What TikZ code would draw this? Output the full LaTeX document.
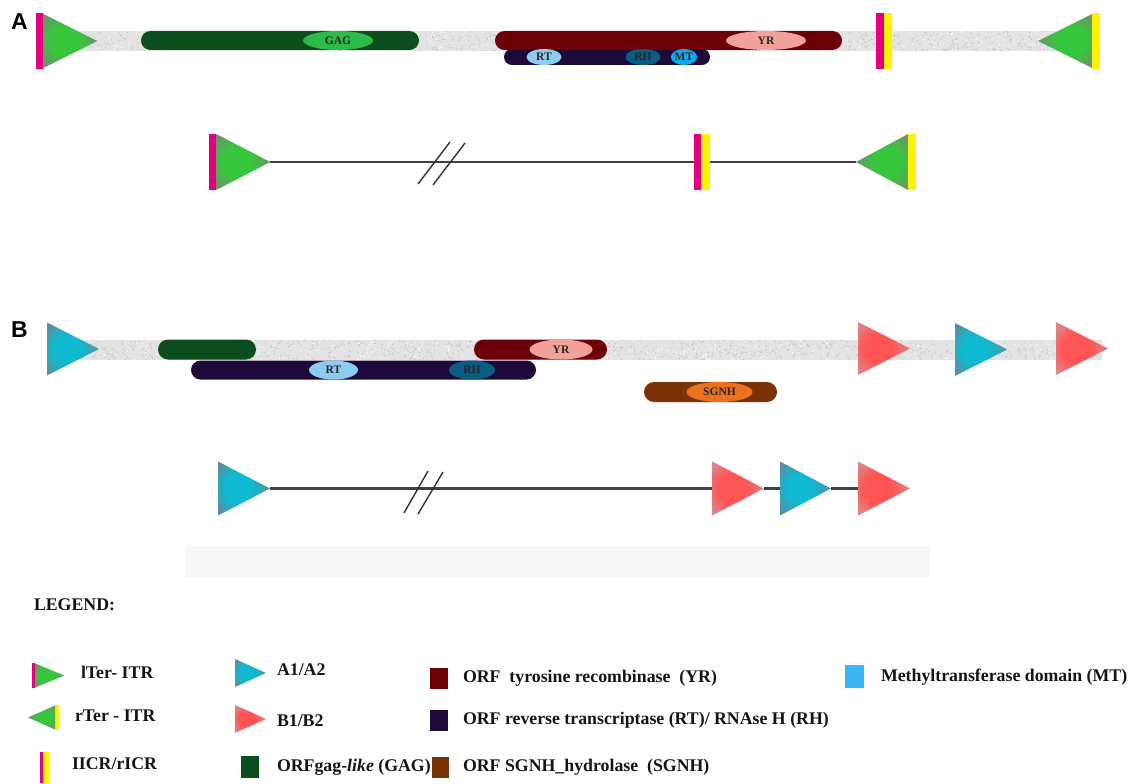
\documentclass[tikz,border=0pt]{standalone}
\usepackage{fontspec}
\setmainfont{Liberation Serif}
\newfontfamily\panelfont{Liberation Sans}
\usetikzlibrary{shapes.geometric}

\definecolor{icrmag}{HTML}{E4007C}
\definecolor{icryel}{HTML}{FFF200}
\definecolor{bandgrey}{HTML}{E3E3E3}
\definecolor{speckdark}{HTML}{C4C4C4}
\definecolor{gagdark}{HTML}{0B4D1C}
\definecolor{gaglight}{HTML}{2DBA48}
\definecolor{yrdark}{HTML}{6B0009}
\definecolor{yrlight}{HTML}{F2A29B}
\definecolor{rtdark}{HTML}{1D0A3B}
\definecolor{rtlight}{HTML}{8FCBF1}
\definecolor{rhteal}{HTML}{0B5C82}
\definecolor{mtblue}{HTML}{12A9EC}
\definecolor{sgdark}{HTML}{7A3309}
\definecolor{sglight}{HTML}{EA711F}
\definecolor{mtkey}{HTML}{3DB5F2}
\definecolor{linegrey}{HTML}{404040}
\definecolor{greenin}{HTML}{38C63C}
\definecolor{greenout}{HTML}{6A946B}
\definecolor{redin}{HTML}{FF5454}
\definecolor{redout}{HTML}{DC878B}
\definecolor{cyanin}{HTML}{10B8D0}
\definecolor{cyanout}{HTML}{5A8F9D}
\definecolor{haze}{HTML}{F7F7F7}

% radial fills for the repeat triangles, centred near the centroid
\pgfdeclareradialshading{greenR}{\pgfpoint{-8bp}{0bp}}{color(0bp)=(greenin); color(13bp)=(greenin); color(30bp)=(greenout); color(50bp)=(greenout)}
\pgfdeclareradialshading{greenL}{\pgfpoint{8bp}{0bp}}{color(0bp)=(greenin); color(13bp)=(greenin); color(30bp)=(greenout); color(50bp)=(greenout)}
\pgfdeclareradialshading{redR}{\pgfpoint{-8bp}{0bp}}{color(0bp)=(redin); color(13bp)=(redin); color(30bp)=(redout); color(50bp)=(redout)}
\pgfdeclareradialshading{cyanR}{\pgfpoint{-8bp}{0bp}}{color(0bp)=(cyanin); color(13bp)=(cyanin); color(30bp)=(cyanout); color(50bp)=(cyanout)}

\begin{document}
\begin{tikzpicture}[x=1pt,y=-1pt,
  every node/.style={inner sep=0pt,outer sep=0pt},
  band/.style={rectangle,fill=bandgrey,minimum height=20pt,anchor=west},
  orf/.style={rectangle,rounded corners=9.5pt,minimum height=19pt,anchor=west},
  dom/.style={ellipse,minimum height=19pt,text=black!85,
    font=\bfseries\fontsize{11.5}{11.5}\selectfont},
  icr/.style={rectangle,minimum width=7.5pt},
  % triangle drawn inside an invisible rectangular node; #1 names the shading
  triR/.style={rectangle,path picture={
      \shade[shading=#1]
        (path picture bounding box.north west) -- (path picture bounding box.east)
        -- (path picture bounding box.south west) -- cycle;}},
  triL/.style={rectangle,path picture={
      \shade[shading=#1]
        (path picture bounding box.north east) -- (path picture bounding box.west)
        -- (path picture bounding box.south east) -- cycle;}},
  link/.style={draw=linegrey,line width=2.2pt},
  cut/.style={draw=linegrey!80!black,line width=1.4pt},
  panel/.style={font=\panelfont\bfseries\fontsize{23}{23}\selectfont,anchor=west},
  key/.style={font=\bfseries\fontsize{17.8}{20}\selectfont,anchor=west,text=black!92},
]
\useasboundingbox (0,0) rectangle (1132,784);

% ---------------- panel A: element map ----------------
\node[panel] (labA) at (11,22) {A};
\node[band,minimum width=1058pt] (bandA) at (42,41) {};
\pgfmathsetseed{11}
\foreach \i in {1,...,900}{
  \pgfmathsetmacro{\px}{42+1058*rnd}
  \pgfmathsetmacro{\py}{31.5+19*rnd}
  \fill[speckdark] (\px,\py) circle (0.75pt);
}
\foreach \i in {1,...,500}{
  \pgfmathsetmacro{\px}{42+1058*rnd}
  \pgfmathsetmacro{\py}{31.5+19*rnd}
  \fill[white] (\px,\py) circle (0.7pt);
}

\node[orf,fill=gagdark,minimum width=278pt] (gagA) at (141,40.5) {};
\node[dom,fill=gaglight,minimum width=70pt] (gagdomA) at (338,40.5) {GAG};

\node[orf,fill=rtdark,minimum width=206pt,minimum height=16pt,rounded corners=8pt] (rtA) at (504,57) {};
\node[orf,fill=yrdark,minimum width=347pt] (yrA) at (495,40.5) {};
\node[dom,fill=yrlight,minimum width=80pt] (yrdomA) at (766,40.5) {YR};
\node[dom,fill=rtlight,minimum width=35pt,minimum height=16pt] (rtdomA) at (544,57) {RT};
\node[dom,fill=rhteal,minimum width=35pt,minimum height=16pt] (rhdomA) at (643,57) {RH};
\node[dom,fill=mtblue,minimum width=21pt,minimum height=16pt] (mtdomA) at (684,57) {MT};

\node[icr,fill=icrmag,minimum height=56pt] (lterbarA) at (39.5,41) {};
\node[triR=greenR,minimum width=54pt,minimum height=54pt,anchor=west] (lterA) at (lterbarA.east) {};
\node[icr,fill=icrmag,minimum width=8pt,minimum height=56pt] (icrmA) at (880,41) {};
\node[icr,fill=icryel,minimum width=8pt,minimum height=56pt,anchor=west] (icryA) at (icrmA.east) {};
\node[icr,fill=icryel,minimum width=8pt,minimum height=56pt] (rterbarA) at (1096,41) {};
\node[triL=greenL,minimum width=54pt,minimum height=54pt,anchor=east] (rterA) at (rterbarA.west) {};

% ---------------- panel A: schematic ----------------
\node[icr,fill=icrmag,minimum height=56pt] (lterbarA2) at (212.5,162) {};
\node[triR=greenR,minimum width=54pt,minimum height=56pt,anchor=west] (lterA2) at (lterbarA2.east) {};
\node[icr,fill=icrmag,minimum width=7.5pt,minimum height=56pt] (icrmA2) at (697.5,162) {};
\node[icr,fill=icryel,minimum width=8.5pt,minimum height=56pt,anchor=west] (icryA2) at (icrmA2.east) {};
\node[icr,fill=icryel,minimum width=8pt,minimum height=56pt] (rterbarA2) at (912,162) {};
\node[triL=greenL,minimum width=52pt,minimum height=56pt,anchor=east] (rterA2) at (rterbarA2.west) {};
\draw[link] (lterA2.east) -- (icrmA2.west);
\draw[link] (icryA2.east) -- (rterA2.west);
\coordinate (cutA1a) at (418,184); \coordinate (cutA1b) at (450,142);
\coordinate (cutA2a) at (433,185); \coordinate (cutA2b) at (465,143);
\draw[cut] (cutA1a) -- (cutA1b);
\draw[cut] (cutA2a) -- (cutA2b);

% ---------------- panel B: element map ----------------
\node[panel] (labB) at (11,330) {B};
\node[band,minimum width=1052pt] (bandB) at (50,350) {};
\pgfmathsetseed{23}
\foreach \i in {1,...,900}{
  \pgfmathsetmacro{\px}{50+1052*rnd}
  \pgfmathsetmacro{\py}{340.5+19*rnd}
  \fill[speckdark] (\px,\py) circle (0.75pt);
}
\foreach \i in {1,...,500}{
  \pgfmathsetmacro{\px}{50+1052*rnd}
  \pgfmathsetmacro{\py}{340.5+19*rnd}
  \fill[white] (\px,\py) circle (0.7pt);
}

\node[orf,fill=gagdark,minimum width=98pt,minimum height=20pt,rounded corners=10pt] (gagB) at (158,349.5) {};
\node[orf,fill=rtdark,minimum width=345pt] (rtB) at (191,370) {};
\node[dom,fill=rtlight,minimum width=49pt] (rtdomB) at (333.5,370) {RT};
\node[dom,fill=rhteal,minimum width=46pt] (rhdomB) at (472,370) {RH};
\node[orf,fill=yrdark,minimum width=133pt,minimum height=20pt,rounded corners=10pt] (yrB) at (474,349.5) {};
\node[dom,fill=yrlight,minimum width=63pt,minimum height=20pt] (yrdomB) at (561,349.5) {YR};
\node[orf,fill=sgdark,minimum width=133pt,minimum height=20pt,rounded corners=10pt] (sgB) at (644,392) {};
\node[dom,fill=sglight,minimum width=66pt,minimum height=20pt] (sgdomB) at (719.5,392) {SGNH};

\node[triR=cyanR,minimum width=52pt,minimum height=53pt,anchor=west] (a1B) at (47,349) {};
\node[triR=redR,minimum width=52pt,minimum height=53pt,anchor=west] (b1B) at (858,348.5) {};
\node[triR=cyanR,minimum width=52pt,minimum height=53pt,anchor=west] (a2B) at (955,349.5) {};
\node[triR=redR,minimum width=52pt,minimum height=53pt,anchor=west] (b2B) at (1056,348.5) {};

% ---------------- panel B: schematic ----------------
\node[triR=cyanR,minimum width=52pt,minimum height=54pt,anchor=west] (a1B2) at (218,488.5) {};
\node[triR=redR,minimum width=52pt,minimum height=54pt,anchor=west] (b1B2) at (712,488.5) {};
\node[triR=cyanR,minimum width=51pt,minimum height=54pt,anchor=west] (a2B2) at (780,488.5) {};
\node[triR=redR,minimum width=52pt,minimum height=54pt,anchor=west] (b2B2) at (858,488.5) {};
\draw[link] (a1B2.east) -- (b1B2.west);
\draw[link] (b1B2.east) -- (a2B2.west);
\draw[link] (a2B2.east) -- (b2B2.west);
\coordinate (cutB1a) at (404,513); \coordinate (cutB1b) at (428,471);
\coordinate (cutB2a) at (418,514); \coordinate (cutB2b) at (443,472);
\draw[cut] (cutB1a) -- (cutB1b);
\draw[cut] (cutB2a) -- (cutB2b);
\node[rectangle,fill=haze,minimum width=745pt,minimum height=31pt,anchor=west] (hazeB) at (185,561.5) {};

% ---------------- legend ----------------
\node[key] (legend) at (34,605) {LEGEND:};

\node[icr,fill=icrmag,minimum width=3.5pt,minimum height=25pt] (klterbar) at (33.5,675.5) {};
\node[triR=greenR,minimum width=29pt,minimum height=24pt,anchor=west] (klter) at (klterbar.east) {};
\node[key] (tlter) at (81,672) {lTer- ITR};

\node[icr,fill=icryel,minimum width=4pt,minimum height=25pt] (krterbar) at (57,717.5) {};
\node[triL=greenL,minimum width=27pt,minimum height=24pt,anchor=east] (krter) at (krterbar.west) {};
\node[key] (trter) at (75,716) {rTer - ITR};

\node[icr,fill=icrmag,minimum width=3.5pt,minimum height=31pt] (kicrm) at (41.5,767.5) {};
\node[icr,fill=icryel,minimum width=5.5pt,minimum height=31pt,anchor=west] (kicry) at (kicrm.east) {};
\node[key] (ticr) at (72,764) {IICR/rICR};

\node[triR=cyanR,minimum width=31pt,minimum height=28pt,anchor=west] (ka) at (235,673) {};
\node[key] (ta) at (277,670) {A1/A2};
\node[triR=redR,minimum width=31pt,minimum height=28pt,anchor=west] (kb) at (235,719) {};
\node[key] (tb) at (277,721) {B1/B2};
\node[rectangle,fill=gagdark,minimum width=18pt,minimum height=22pt] (kgag) at (250,767) {};
\node[key] (tgag) at (277,767) {ORFgag-\textit{like} (GAG)};

\node[rectangle,fill=yrdark,minimum width=18pt,minimum height=21pt] (kyr) at (439,678.5) {};
\node[key] (tyr) at (463,678) {ORF\ \ tyrosine recombinase\ \ (YR)};
\node[rectangle,fill=rtdark,minimum width=18pt,minimum height=21pt] (krt) at (439,720) {};
\node[key] (trt) at (463,720) {ORF reverse transcriptase (RT)/ RNAse H (RH)};
\node[rectangle,fill=sgdark,minimum width=17pt,minimum height=21pt] (ksg) at (440,767) {};
\node[key] (tsg) at (463,767) {ORF SGNH\_hydrolase\ \ (SGNH)};

\node[rectangle,fill=mtkey,minimum width=19pt,minimum height=23pt] (kmt) at (854,676.5) {};
\node[key] (tmt) at (881,677) {Methyltransferase domain\ (MT)};
\end{tikzpicture}
\end{document}
